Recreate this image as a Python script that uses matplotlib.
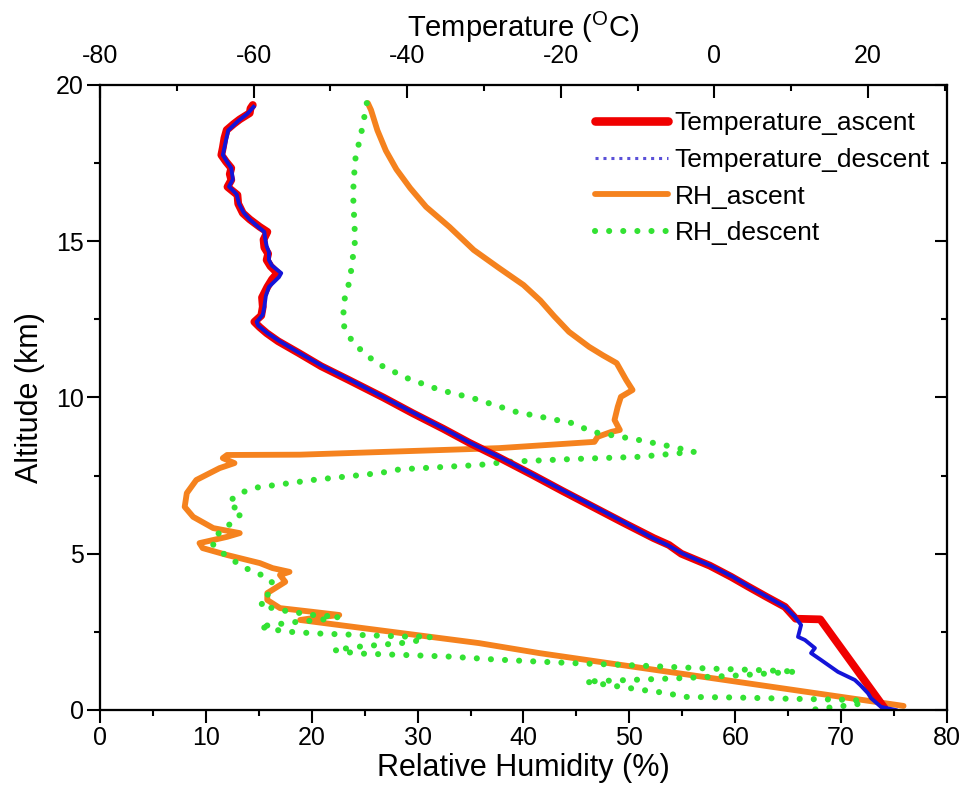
import matplotlib

matplotlib.use("Agg")
import matplotlib.pyplot as plt
from matplotlib.lines import Line2D
from matplotlib.ticker import MultipleLocator

plt.rcParams["font.family"] = ["Liberation Sans", "DejaVu Sans"]
plt.rcParams["mathtext.default"] = "regular"
plt.rcParams["axes.unicode_minus"] = False

# Radiosonde profile: temperature (top axis, deg C) and RH (bottom axis, %)
T_ASC = [22.2, 13.8, 10.6, 9.2, 6.8, 4.4, 2.2, -0.6, -4.3, -5.9, -7.9, -11.9,
         -15.8, -19.7, -23.5, -28.2, -31.9, -35.3, -39.3, -43.1, -47.6, -51.2,
         -54.1, -56.8, -58.3, -59.2, -59.9, -59.0, -58.8, -58.9, -58.2, -57.6,
         -56.9, -57.8, -58.3, -58.1, -58.6, -58.7, -58.2, -59.2, -60.5, -61.4,
         -62.0, -62.1, -63.4, -62.9, -63.1, -62.9, -63.6, -64.2, -64.0, -63.8,
         -63.5, -62.6, -61.8, -60.5, -60.4, -60.1]
Z_T_ASC = [0.05, 2.90, 2.92, 3.30, 3.62, 3.95, 4.26, 4.62, 5.00, 5.28, 5.50,
           6.00, 6.50, 7.00, 7.50, 8.10, 8.55, 9.00, 9.50, 10.00, 10.56, 11.00,
           11.42, 11.80, 12.06, 12.25, 12.42, 12.62, 12.90, 13.20, 13.54, 13.78,
           13.98, 14.20, 14.40, 14.60, 14.80, 15.05, 15.30, 15.46, 15.70, 15.90,
           16.20, 16.48, 16.74, 16.96, 17.15, 17.34, 17.55, 17.76, 18.00, 18.30,
           18.56, 18.75, 18.90, 19.10, 19.25, 19.36]

T_DESC = [23.6, 21.7, 20.4, 20.0, 19.0, 18.3, 16.1, 13.9, 12.6, 13.1, 11.8,
          10.9, 11.3, 10.5, 9.2, 6.9, 4.5, 2.4, -0.5, -4.1, -6.1, -8.0, -11.7,
          -15.6, -19.5, -23.4, -28.0, -31.8, -35.2, -39.1, -43.0, -47.4, -51.0,
          -54.0, -56.6, -58.2, -59.4, -59.6, -58.8, -58.6, -58.4, -58.0, -56.7,
          -56.4, -57.6, -58.0, -58.0, -58.3, -58.5, -58.6, -59.4, -60.6, -61.3,
          -61.9, -62.2, -63.2, -62.7, -62.9, -63.5, -64.0, -63.8, -63.3, -62.0,
          -60.8, -60.0]
Z_T_DESC = [0.00, 0.10, 0.38, 0.54, 0.80, 0.96, 1.22, 1.60, 1.82, 1.98, 2.24,
            2.34, 2.72, 2.98, 3.30, 3.62, 3.95, 4.26, 4.62, 5.00, 5.28, 5.50,
            6.00, 6.50, 7.00, 7.50, 8.10, 8.55, 9.00, 9.50, 10.00, 10.56, 11.00,
            11.42, 11.80, 12.06, 12.30, 12.42, 12.65, 12.90, 13.25, 13.54,
            13.85, 13.98, 14.22, 14.40, 14.65, 14.85, 15.10, 15.30, 15.46,
            15.72, 15.92, 16.20, 16.50, 16.75, 16.98, 17.34, 17.56, 17.76,
            18.00, 18.55, 18.85, 19.08, 19.30]

RH_ASC = [75.9, 41.5, 35.8, 18.9, 20.1, 22.6, 20.1, 17.0, 15.8, 15.8, 17.5,
          17.0, 17.9, 16.3, 15.1, 12.0, 9.7, 9.4, 10.7, 12.0, 13.2, 10.7, 8.8,
          8.0, 8.2, 9.1, 11.3, 12.7, 11.6, 12.0, 18.9, 37.7, 46.7, 47.0, 48.3,
          49.1, 48.6, 48.9, 49.2, 50.3, 49.7, 48.8, 47.5, 46.2, 44.3, 42.9,
          41.6, 40.0, 37.7, 35.3, 33.0, 30.8, 29.3, 28.0, 27.0, 26.2, 25.6,
          25.3]
Z_RH_ASC = [0.13, 1.82, 2.14, 2.88, 2.94, 3.04, 3.14, 3.26, 3.52, 3.74, 4.10,
            4.32, 4.42, 4.54, 4.70, 4.96, 5.18, 5.34, 5.44, 5.54, 5.66, 5.82,
            6.18, 6.50, 6.94, 7.36, 7.74, 7.90, 8.06, 8.16, 8.17, 8.38, 8.58,
            8.74, 8.90, 8.96, 9.28, 9.70, 10.02, 10.24, 10.56, 11.10, 11.35,
            11.62, 12.10, 12.60, 13.10, 13.60, 14.14, 14.72, 15.46, 16.10,
            16.70, 17.30, 17.90, 18.55, 19.20, 19.42]

RH_DESC = [25.2, 24.8, 24.1, 23.9, 24.1, 23.6, 23.0, 23.0, 23.9, 26.1, 29.0,
           32.1, 35.2, 39.3, 44.6, 46.5, 50.9, 54.1, 56.1, 55.4, 50.9, 44.6,
           38.4, 35.8, 28.3, 26.4, 20.1, 14.4, 12.9, 12.1, 13.5, 12.5, 12.0,
           10.7, 10.7, 11.6, 12.5, 14.4, 15.8, 16.3, 15.8, 16.0, 15.1, 17.0,
           20.1, 22.6, 20.8, 18.6, 15.0, 17.5, 20.4, 24.6, 28.75, 31.3, 30.4,
           28.75, 24.6, 22.1, 24.2, 28.75, 32.9, 37.1, 41.25, 45.4, 49.6,
           53.75, 58.0, 62.0, 65.8, 60.0, 55.0, 50.0, 45.8, 47.0, 51.25, 53.75,
           55.0, 60.0, 65.0, 70.0, 72.1, 71.5, 69.0, 67.1]
Z_RH_DESC = [19.42, 18.66, 17.60, 16.54, 15.04, 13.76, 13.02, 12.32, 11.74,
             11.10, 10.62, 10.24, 9.98, 9.54, 9.18, 8.90, 8.64, 8.42, 8.26,
             8.24, 8.10, 8.03, 7.94, 7.84, 7.70, 7.58, 7.36, 7.10, 6.88, 6.62,
             6.30, 6.08, 5.82, 5.54, 5.28, 5.02, 4.80, 4.42, 4.26, 4.06, 3.74,
             3.52, 3.36, 3.20, 3.04, 2.98, 2.88, 2.82, 2.67, 2.51, 2.45, 2.40,
             2.35, 2.35, 2.24, 2.15, 2.03, 1.92, 1.81, 1.76, 1.71, 1.62, 1.55,
             1.49, 1.44, 1.38, 1.32, 1.28, 1.23, 1.10, 1.02, 0.96, 0.91, 0.85,
             0.64, 0.53, 0.42, 0.40, 0.36, 0.33, 0.30, 0.18, 0.08, 0.00]

RED = "#f00000"
BLUE = "#1414d8"
ORANGE = "#f5821e"
GREEN = "#33e233"
GREEN_DOTS = (0, (0.01, 2.3))

fig = plt.figure(figsize=(9.67, 7.98), dpi=100)
ax = fig.add_axes([0.1034, 0.1103, 0.8759, 0.7832])

# humidity on the bottom axis
ax.plot(RH_ASC, Z_RH_ASC, color=ORANGE, lw=4.2, solid_joinstyle="round",
        solid_capstyle="round")
ax.plot(RH_DESC, Z_RH_DESC, color=GREEN, lw=4.4, linestyle=GREEN_DOTS,
        dash_capstyle="round")
ax.set_xlim(0, 80)
ax.set_ylim(0, 20)
ax.xaxis.set_major_locator(MultipleLocator(10))
ax.xaxis.set_minor_locator(MultipleLocator(5))
ax.yaxis.set_major_locator(MultipleLocator(5))
ax.yaxis.set_minor_locator(MultipleLocator(2.5))
ax.tick_params(which="both", direction="out", width=1.5, labelsize=18,
               top=False, right=False, pad=2)
ax.tick_params(which="major", length=9.5)
ax.tick_params(which="minor", length=4)
ax.set_xlabel("Relative Humidity (%)", fontsize=22, labelpad=2)
ax.set_ylabel("Altitude (km)", fontsize=22, labelpad=8)

# temperature on the top axis
ax2 = ax.twiny()
ax2.plot(T_ASC, Z_T_ASC, color=RED, lw=5.6, solid_joinstyle="round",
         solid_capstyle="round")
ax2.plot(T_DESC, Z_T_DESC, color=BLUE, lw=2.8, solid_joinstyle="round")
ax2.set_xlim(-80, 30.3)
ax2.xaxis.set_major_locator(MultipleLocator(20))
ax2.xaxis.set_minor_locator(MultipleLocator(10))
ax2.tick_params(which="both", direction="in", width=1.5, labelsize=18, pad=12)
ax2.tick_params(which="major", length=9)
ax2.tick_params(which="minor", length=4.5)
ax2.set_xlabel("Temperature ($^{O}$C)", fontsize=21, labelpad=5)

# inward ticks on the right edge
ax3 = ax.twinx()
ax3.set_ylim(0, 20)
ax3.yaxis.set_major_locator(MultipleLocator(5))
ax3.yaxis.set_minor_locator(MultipleLocator(2.5))
ax3.tick_params(which="both", direction="in", width=1.5, labelright=False)
ax3.tick_params(which="major", length=9)
ax3.tick_params(which="minor", length=4.5)

for a in (ax, ax2, ax3):
    for s in a.spines.values():
        s.set_linewidth(1.5)

handles = [
    Line2D([], [], color=RED, lw=6.2, solid_capstyle="round"),
    Line2D([], [], color="#5a50d8", lw=2.2, linestyle=(0, (1, 1.6))),
    Line2D([], [], color=ORANGE, lw=4.2, solid_capstyle="round"),
    Line2D([], [], color=GREEN, lw=4.4, linestyle=GREEN_DOTS,
           dash_capstyle="round"),
]
labels = ["Temperature_ascent", "Temperature_descent", "RH_ascent", "RH_descent"]
ax3.legend(handles, labels, loc="upper left", bbox_to_anchor=(0.585, 0.958),
           frameon=False, fontsize=19, handlelength=2.75, handletextpad=0.25,
           labelspacing=0.48, borderpad=0, borderaxespad=0)

fig.savefig("out.png", dpi=100, facecolor="white")
